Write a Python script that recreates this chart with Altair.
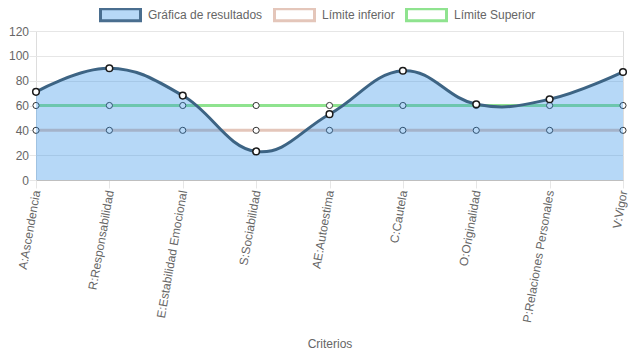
import altair as alt
import pandas as pd

criterios = [
    "A:Ascendencia",
    "R:Responsabilidad",
    "E:Estabilidad Emocional",
    "S:Sociabilidad",
    "AE:Autoestima",
    "C:Cautela",
    "O:Originalidad",
    "P:Relaciones Personales",
    "V:Vigor",
]
resultados = [71, 90, 68, 23, 53, 88, 61, 65, 87]
limite_inferior = [40, 40, 40, 40, 40, 40, 40, 40, 40]
limite_superior = [60, 60, 60, 60, 60, 60, 60, 60, 60]
series = ["Gráfica de resultados", "Límite inferior", "Límite Superior"]
y_ticks = [0, 20, 40, 60, 80, 100, 120]

FONT = "Liberation Sans"
TXT = "#666666"
GRID = "#e6e6e6"
LINE_BLUE = "#3d6484"
AREA_BLUE = "#2f8fe8"
PINK = "#e4c6ba"
GREEN = "#8fe38f"
PT_STROKE = "#333333"

df = pd.DataFrame({
    "criterio": criterios,
    "resultado": resultados,
    "inferior": limite_inferior,
    "superior": limite_superior,
})
legend_df = pd.DataFrame({"serie": series})

x_axis = alt.Axis(
    labelAngle=280, labelAlign="right", labelBaseline="middle", labelPadding=2,
    labelOverlap=False, labelLimit=0, tickSize=8, tickColor=GRID, gridColor=GRID,
    domainColor="#bfbfbf", labelColor=TXT, labelFontSize=12, labelFont=FONT,
    titleFont=FONT, titleFontSize=12, titleColor=TXT, titleFontWeight="normal",
    titleY=158, titleBaseline="top",
)
y_axis = alt.Axis(
    values=y_ticks, tickSize=7, tickColor=GRID, gridColor=GRID, domain=False,
    labelPadding=0.5, labelColor=TXT, labelFontSize=12, labelFont=FONT,
)
x_enc = alt.X("criterio:N", sort=criterios, scale=alt.Scale(type="point", padding=0),
              title="Criterios", axis=x_axis)
y_scale = alt.Scale(domain=[0, 120], nice=False)

def y_enc(field):
    return alt.Y(f"{field}:Q", scale=y_scale, title=None, axis=y_axis)

base = alt.Chart(df)

sup_line = base.mark_line(color=GREEN, strokeWidth=3).encode(x=x_enc, y=y_enc("superior"))
sup_pts = base.mark_point(shape="circle", filled=True, fill="white", stroke=PT_STROKE,
                          strokeWidth=1, size=38, opacity=1).encode(x=x_enc, y=y_enc("superior"))
inf_line = base.mark_line(color=PINK, strokeWidth=3).encode(x=x_enc, y=y_enc("inferior"))
inf_pts = base.mark_point(shape="circle", filled=True, fill="white", stroke=PT_STROKE,
                          strokeWidth=1, size=38, opacity=1).encode(x=x_enc, y=y_enc("inferior"))
res_area = base.mark_area(interpolate="cardinal", tension=-0.2, fill=AREA_BLUE,
                          fillOpacity=0.35).encode(x=x_enc, y=y_enc("resultado"))
res_line = base.mark_line(interpolate="cardinal", tension=-0.2, color=LINE_BLUE,
                          strokeWidth=3).encode(x=x_enc, y=y_enc("resultado"))
res_pts = base.mark_point(shape="circle", filled=True, fill="white", stroke="#1a1a1a",
                          strokeWidth=1.5, size=44, opacity=1).encode(x=x_enc, y=y_enc("resultado"))

leg = alt.Legend(
    orient="none", legendX=63, legendY=-38, direction="horizontal", title=None,
    symbolType="M-1,-0.3L1,-0.3L1,0.3L-1,0.3Z", symbolSize=1600, symbolStrokeWidth=3,
    symbolOpacity=1, labelFont=FONT, labelFontSize=12, labelColor=TXT,
    labelOffset=6, columnPadding=5, padding=0,
)
legend_layer = alt.Chart(legend_df).mark_point(shape="circle", filled=True, opacity=1).encode(
    fill=alt.Fill("serie:N", scale=alt.Scale(domain=series, range=["#b7d8f6", "#ffffff", "#ffffff"]), legend=leg),
    stroke=alt.Stroke("serie:N", scale=alt.Scale(domain=series, range=["#4a6e8f", PINK, GREEN]), legend=leg),
).transform_filter("false")

chart = alt.layer(
    legend_layer, sup_line, sup_pts, inf_line, inf_pts, res_area, res_line, res_pts
).properties(
    width=587, height=149,
    autosize=alt.AutoSizeParams(type="none"),
    padding={"left": 28, "top": 23, "right": 6, "bottom": 170},
).configure_view(strokeWidth=0).configure(background="white")

chart.save("out.html", embed_options={"renderer": "svg", "actions": False})
